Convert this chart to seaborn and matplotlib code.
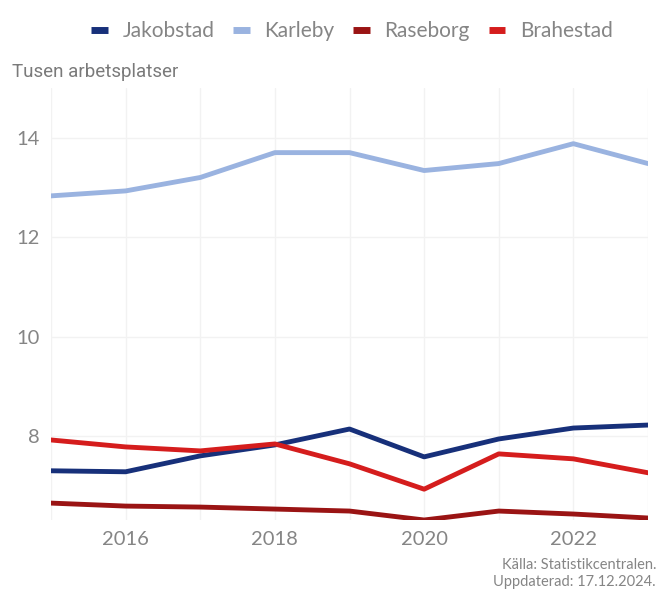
import pandas as pd
import numpy as np
import seaborn as sns
import matplotlib.pyplot as plt

years = [2015, 2016, 2017, 2018, 2019, 2020, 2021, 2022, 2023]
jakobstad = [7.30, 7.28, 7.60, 7.82, 8.14, 7.58, 7.94, 8.16, 8.22]
karleby = [12.83, 12.93, 13.20, 13.70, 13.70, 13.34, 13.48, 13.88, 13.48]
raseborg = [6.65, 6.59, 6.57, 6.53, 6.49, 6.31, 6.49, 6.43, 6.35]
brahestad = [7.92, 7.78, 7.70, 7.84, 7.44, 6.93, 7.64, 7.54, 7.26]

towns = ["Jakobstad", "Karleby", "Raseborg", "Brahestad"]
colors = ["#17307a", "#9ab3e0", "#9a1414", "#d51d1d"]

df = pd.DataFrame({
    "year": years * 4,
    "value": jakobstad + karleby + raseborg + brahestad,
    "town": [t for t in towns for _ in years],
})

sns.set_style("white")
plt.rcParams['font.family'] = ['Lato', 'DejaVu Sans']

fig = plt.figure(figsize=(6.64, 5.9), dpi=100)
ax = fig.add_axes([51 / 664, 1 - 520 / 590, 597 / 664, 432 / 590])

sns.lineplot(data=df, x="year", y="value", hue="town", palette=colors,
             hue_order=towns, linewidth=3.5, ax=ax, legend=False)

ax.set_xlim(2015, 2023)
ax.set_ylim(6.31, 15.0)
ax.set_xticks(years)
ax.set_xticklabels(["", "2016", "", "2018", "", "2020", "", "2022", ""])
ax.set_yticks([8, 10, 12, 14])
ax.grid(True, color="#f2f2f2", linewidth=1)
ax.set_axisbelow(True)
for s in ax.spines.values():
    s.set_visible(False)
ax.tick_params(axis="both", length=0, labelsize=14.5, labelcolor="#858585")
ax.tick_params(axis="x", pad=8)
ax.tick_params(axis="y", pad=8)
ax.set_xlabel("")
ax.set_ylabel("")

fig.text(12 / 664, 1 - 72 / 590, "Tusen arbetsplatser", fontsize=13.5,
         color="#7a7a7a", family=["Roboto", "DejaVu Sans"], va="center")

handles = [plt.Line2D([0], [0], color=c, linewidth=5, solid_capstyle="butt")
           for c in colors]
fig.legend(handles, towns, loc="center", bbox_to_anchor=(352 / 664, 1 - 31 / 590),
           ncol=4, frameon=False, fontsize=15, handlelength=0.8,
           columnspacing=0.9, handletextpad=0.7, labelcolor="#858585")

fig.text(656 / 664, 1 - 565 / 590, "Källa: Statistikcentralen.", ha="right",
         va="center", fontsize=10.5, color="#858585")
fig.text(656 / 664, 1 - 582 / 590, "Uppdaterad: 17.12.2024.", ha="right",
         va="center", fontsize=10.5, color="#858585")

fig.savefig("out.png", dpi=100)
